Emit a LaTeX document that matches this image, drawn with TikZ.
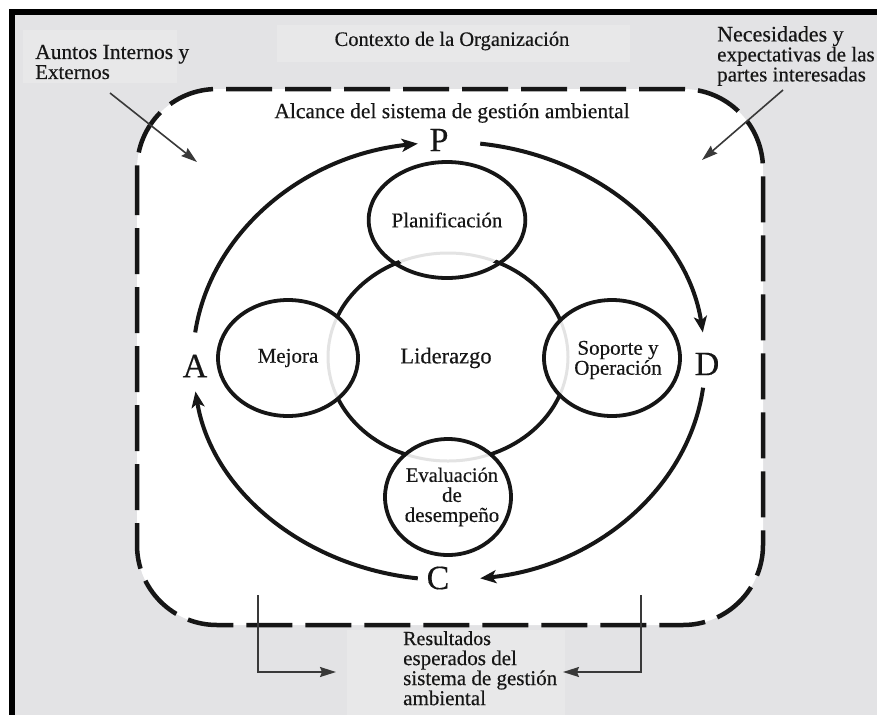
\documentclass[tikz,border=0pt]{standalone}
\usepackage{fontspec}
\setmainfont{Liberation Serif}[FakeBold=0.35]
\usetikzlibrary{arrows.meta,calc,shapes.geometric}
\definecolor{bg}{RGB}{227,227,229}
\definecolor{bglight}{RGB}{232,232,233}
\definecolor{ink}{RGB}{22,22,22}
\begin{document}
\begin{tikzpicture}[x=1pt,y=-1pt,
  lbl/.style={font=\fontsize{21}{20}\selectfont, text=ink, align=center, inner sep=0pt},
  bigletter/.style={font=\fontsize{34}{34}\selectfont, text=ink, inner sep=0pt},
  phase/.style={ellipse, draw=ink, line width=3.8pt, inner sep=0pt, align=center,
     font=\fontsize{21}{20}\selectfont, text=ink},
  cyc/.style={draw=ink, line width=4pt, -{Stealth[length=16pt,width=13pt,inset=4pt]}},
  thinarrow/.style={draw=ink!85, line width=1.6pt, -{Stealth[length=16pt,width=10pt,inset=2pt]}},
  scopeline/.style={draw=ink, line width=4.5pt, dash pattern=on 46pt off 13pt, rounded corners=80pt},
]
\useasboundingbox (0,0) rectangle (877,715);
\fill[white] (0,0) rectangle (877,715);
\fill[bg] (15,15) rectangle (877,715);
\fill[bglight] (23,30) rectangle (177,83);
\fill[bglight] (277,25) rectangle (630,62);
\fill[bglight] (347,630) rectangle (565,715);
% frame
\fill[black] (9,9) rectangle (877,15);
\fill[black] (9,9) rectangle (15,715);

% scope of the EMS
\fill[white, rounded corners=80pt] (137,89) rectangle (763,625);
\draw[scopeline] (137,89) rectangle (763,625);

% outside texts
\node[lbl] (ctx) at (452,41) {\fontsize{20.5}{20}\selectfont Contexto de la Organización};
\node[lbl, align=left, anchor=west] (ext) at (35,62) {\fontsize{21.5}{20}\selectfont Auntos Internos y\\Externos};
\node[lbl, align=left, anchor=west] (nec) at (717,56) {\fontsize{22}{21.5}\selectfont Necesidades y\\expectativas de las\\partes interesadas};
\node[lbl] (alc) at (452,113) {\fontsize{21.5}{20}\selectfont Alcance del sistema de gestión ambiental};
\node[lbl, align=left, anchor=north west] (res) at (403,631) {\fontsize{20}{23.6}\selectfont Resultados\\esperados del\\sistema de gestión\\ambiental};

% thin arrows
\coordinate (e1) at (110,93);
\coordinate (e2) at (197,162);
\draw[thinarrow] (e1) -- (e2);
\coordinate (n1) at (783,90);
\coordinate (n2) at (702,160);
\draw[thinarrow] (n1) -- (n2);
\coordinate (bl1) at (258,595);
\coordinate (bl2) at (258,672);
\coordinate (bl3) at (336,672);
\draw[thinarrow] (bl1) -- (bl2) -- (bl3);
\coordinate (br1) at (641,595);
\coordinate (br2) at (641,672);
\coordinate (br3) at (563,672);
\draw[thinarrow] (br1) -- (br2) -- (br3);

% central leadership ellipse
\coordinate (L) at (448,357);
\draw[ink, line width=3.8pt] (L) ellipse [x radius=120, y radius=104];
\node[lbl] (lid) at (446,358) {\fontsize{22.5}{20}\selectfont Liderazgo};

% white fills of phases
\fill[white] (447,220) ellipse [x radius=67, y radius=58];
\fill[white] (288,358) ellipse [x radius=70, y radius=58];
\fill[white] (612,358) ellipse [x radius=68, y radius=58];
\fill[white] (448,497) ellipse [x radius=63, y radius=58];
% faint continuation of the leadership ellipse
\foreach \cx/\cy/\rx in {447/220/67, 288/358/70, 612/358/68, 448/497/63}{
  \begin{scope}
    \clip (\cx,\cy) ellipse [x radius=\rx, y radius=58];
    \draw[gray!22, line width=3pt] (L) ellipse [x radius=120, y radius=104];
  \end{scope}
}
% phases
\node[phase, minimum width=134pt, minimum height=116pt] (plan) at (447,220) {Planificación};
\node[phase, minimum width=140pt, minimum height=116pt] (mej) at (288,358) {Mejora};
\node[phase, minimum width=136pt, minimum height=116pt] (sop) at (612,358) {};
\node[lbl] at (618,360) {Soporte y\\Operación};
\node[phase, minimum width=126pt, minimum height=116pt] (eva) at (448,497) {};
\node[lbl] at (452,497) {\fontsize{20.5}{19.5}\selectfont Evaluación\\de\\desempeño};

% PDCA letters
\node[bigletter] (P) at (439,140) {P};
\node[bigletter] (D) at (707,364) {D};
\node[bigletter] (C) at (438,578) {C};
\node[bigletter] (A) at (195,366) {A};

% PDCA cycle
\coordinate (O) at (449,361);
\draw[cyc] ($(O)+(-172.5:256 and 219)$) arc[start angle=-172.5, end angle=-97, x radius=256, y radius=219];
\draw[cyc] ($(O)+(-83:256 and 219)$) arc[start angle=-83, end angle=-7.5, x radius=256, y radius=219];
\draw[cyc] ($(O)+(7:256 and 219)$) arc[start angle=7, end angle=83, x radius=256, y radius=219];
\draw[cyc] ($(O)+(97:256 and 219)$) arc[start angle=97, end angle=172, x radius=256, y radius=219];
\end{tikzpicture}
\end{document}
